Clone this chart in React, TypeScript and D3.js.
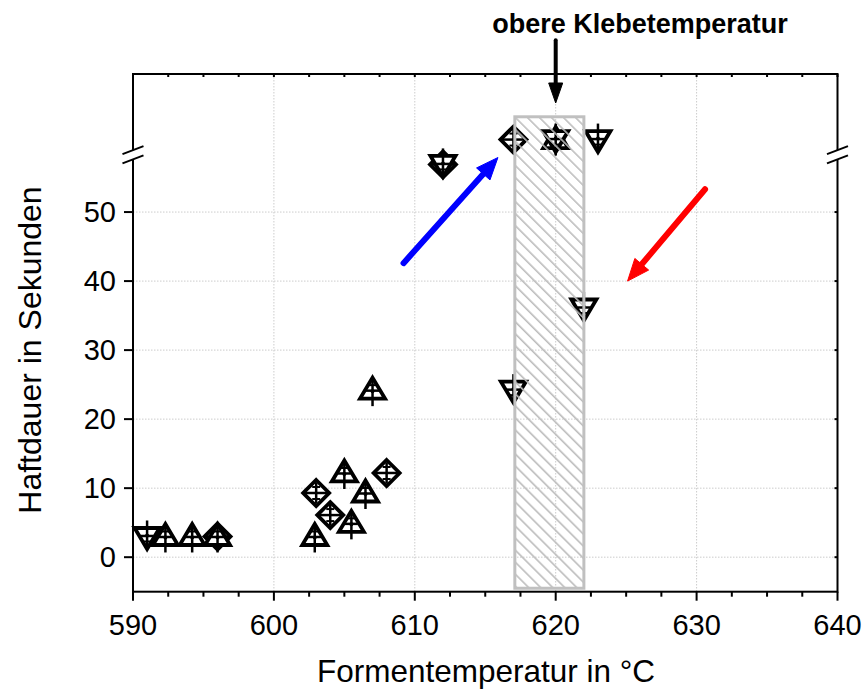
import React from "react";
import * as d3 from "d3";

const W = 866;
const H = 696;

// data: temperature (°C), adhesion duration (s), marker shape
const temps = [591, 592.3, 594.2, 596, 596, 602.9, 603, 604, 605, 605.5, 606.5, 607, 608, 612, 612, 617, 620, 620, 623, 617, 622];
const durations = [3, 3, 3, 3, 3, 3, 9.3, 6.1, 12.2, 4.9, 9.3, 24.2, 12.2, 56.9, 56.9, 60.5, 60.5, 60.5, 60.5, 24.2, 36.1];
const shapes = ["down", "up", "up", "diamond", "up", "up", "diamond", "diamond", "up", "up", "up", "up", "diamond", "diamond", "down", "diamond", "up", "down", "down", "down", "down"];

const xTicks = [590, 600, 610, 620, 630, 640];
const xMinorTicks = [592.5, 595, 597.5, 602.5, 605, 607.5, 612.5, 615, 617.5, 622.5, 625, 627.5, 632.5, 635, 637.5];
const yTicks = [0, 10, 20, 30, 40, 50];

// annotation (data units)
const bandRange = [617.1, 622];
const bandY = [-4.5, 63.8];
const blueArrow = [[609.2, 42.6], [615.9, 57.9]];
const redArrow = [[630.6, 53.3], [625.1, 40.0]];
const blackArrow = [[620, 74.9], [620, 65.8]];
const breakValue = 58.3;

const titleText = "obere Klebetemperatur";
const xLabel = "Formentemperatur in °C";
const yLabel = "Haftdauer in Sekunden";

const x = d3.scaleLinear().domain([590, 640]).range([133, 837.5]);
const y = d3.scaleLinear().domain([-5, 70]).range([591.7, 74]);

const FONT = "'Liberation Sans', Arial, sans-serif";

function Arrow({ pts, color, width, headLen, headHalf }: any) {
  const [x0, y0] = [x(pts[0][0]), y(pts[0][1])];
  const [x1, y1] = [x(pts[1][0]), y(pts[1][1])];
  const dx = x1 - x0, dy = y1 - y0;
  const len = Math.sqrt(dx * dx + dy * dy);
  const ux = dx / len, uy = dy / len;
  const bx = x1 - ux * headLen, by = y1 - uy * headLen;
  const px = -uy, py = ux;
  const head = [
    [x1, y1],
    [bx + px * headHalf, by + py * headHalf],
    [bx - px * headHalf, by - py * headHalf],
  ];
  return (
    <g>
      <line x1={x0} y1={y0} x2={bx + ux * 2} y2={by + uy * 2} stroke={color} strokeWidth={width} strokeLinecap="round" />
      <polygon points={head.map((p) => p.join(",")).join(" ")} fill={color} stroke={color} strokeWidth={1} strokeLinejoin="round" />
    </g>
  );
}

function Marker({ cx, cy, shape }: any) {
  const sw = 3.8;
  if (shape === "up") {
    return (
      <g transform={`translate(${cx},${cy})`} stroke="#000" strokeWidth={sw} fill="#fff">
        <path d="M0,-12.5 L12.5,8.5 L-12.5,8.5 Z" strokeLinejoin="miter" />
        <line x1={0} y1={-12} x2={0} y2={16} strokeWidth={2.5} />
        <line x1={-6.5} y1={0.5} x2={6.5} y2={0.5} strokeWidth={2.5} />
        <line x1={-4} y1={-5} x2={4} y2={-5} strokeWidth={2} />
        <circle cx={0} cy={1} r={2} fill="#000" stroke="none" />
      </g>
    );
  }
  if (shape === "down") {
    return (
      <g transform={`translate(${cx},${cy})`} stroke="#000" strokeWidth={sw} fill="#fff">
        <path d="M-12.5,-8.5 L12.5,-8.5 L0,12.5 Z" strokeLinejoin="miter" />
        <line x1={0} y1={-16} x2={0} y2={12} strokeWidth={2.5} />
        <line x1={-6.5} y1={-0.5} x2={6.5} y2={-0.5} strokeWidth={2.5} />
        <line x1={-4} y1={5} x2={4} y2={5} strokeWidth={2} />
        <circle cx={0} cy={-1} r={2} fill="#000" stroke="none" />
      </g>
    );
  }
  return (
    <g transform={`translate(${cx},${cy})`} stroke="#000" strokeWidth={sw} fill="#fff">
      <path d="M0,-13 L13,0 L0,13 L-13,0 Z" strokeLinejoin="miter" />
      <line x1={-12} y1={0} x2={12} y2={0} strokeWidth={2.5} />
      <line x1={0} y1={-10.5} x2={0} y2={10.5} strokeWidth={2.5} />
      <line x1={-4} y1={-6} x2={4} y2={-6} strokeWidth={2} />
      <line x1={-4} y1={6} x2={4} y2={6} strokeWidth={2} />
    </g>
  );
}

function BreakMark({ ax }: any) {
  const by = y(breakValue);
  const dxh = 10.5, dyh = 4, gap = 4.6;
  return (
    <g>
      <polygon
        points={`${ax - dxh},${by - gap + dyh} ${ax + dxh},${by - gap - dyh} ${ax + dxh},${by + gap - dyh} ${ax - dxh},${by + gap + dyh}`}
        fill="#fff"
        stroke="none"
      />
      <line x1={ax - dxh} y1={by - gap + dyh} x2={ax + dxh} y2={by - gap - dyh} stroke="#000" strokeWidth={2} />
      <line x1={ax - dxh} y1={by + gap + dyh} x2={ax + dxh} y2={by + gap - dyh} stroke="#000" strokeWidth={2} />
    </g>
  );
}

export default function App() {
  const [x0, x1] = x.range();
  const [yb, yt] = y.range();
  return (
    <svg width={W} height={H} style={{ position: "absolute", left: 0, top: 0, background: "#fff" }} fontFamily={FONT}>
      <defs>
        <pattern id="hatch" patternUnits="userSpaceOnUse" width={8.5} height={8.5} patternTransform="rotate(-45)">
          <line x1={0} y1={0} x2={0} y2={8.5} stroke="#bdbdbd" strokeWidth={3.2} />
        </pattern>
      </defs>
      <rect x={0} y={0} width={W} height={H} fill="#fff" />

      {/* grid */}
      <g stroke="#cccccc" strokeWidth={1} strokeDasharray="1.5,1.5">
        {xTicks.slice(1, -1).map((t) => (
          <line key={"gx" + t} x1={x(t)} x2={x(t)} y1={yt} y2={yb} />
        ))}
        {yTicks.map((t) => (
          <line key={"gy" + t} x1={x0} x2={x1} y1={y(t)} y2={y(t)} />
        ))}
      </g>

      {/* markers */}
      {temps.map((t, i) => (
        <Marker key={i} cx={x(t)} cy={y(durations[i])} shape={shapes[i]} />
      ))}

      {/* hatched band */}
      <rect
        x={x(bandRange[0])}
        y={y(bandY[1])}
        width={x(bandRange[1]) - x(bandRange[0])}
        height={y(bandY[0]) - y(bandY[1])}
        fill="url(#hatch)"
        stroke="#c0c0c0"
        strokeWidth={3}
      />

      {/* arrows */}
      <Arrow pts={blueArrow} color="#0000ff" width={6} headLen={22} headHalf={9} />
      <Arrow pts={redArrow} color="#ff0000" width={6} headLen={22} headHalf={9} />
      <Arrow pts={blackArrow} color="#000" width={4} headLen={20} headHalf={7} />

      {/* frame */}
      <rect x={x0} y={yt} width={x1 - x0} height={yb - yt} fill="none" stroke="#000" strokeWidth={2} />

      {/* ticks */}
      <g stroke="#000" strokeWidth={2}>
        {xTicks.map((t) => (
          <line key={"bt" + t} x1={x(t)} x2={x(t)} y1={yb} y2={yb + 9} />
        ))}
        {xMinorTicks.map((t) => (
          <line key={"bm" + t} x1={x(t)} x2={x(t)} y1={yb} y2={yb + 5} />
        ))}
        {[...xTicks, ...xMinorTicks].map((t) => (
          <line key={"tt" + t} x1={x(t)} x2={x(t)} y1={yt} y2={yt + 3} />
        ))}
        {yTicks.map((t) => (
          <line key={"lt" + t} x1={x0 - 9} x2={x0} y1={y(t)} y2={y(t)} />
        ))}
        {yTicks.map((t) => (
          <line key={"rt" + t} x1={x1 - 3} x2={x1} y1={y(t)} y2={y(t)} />
        ))}
      </g>

      <BreakMark ax={x0} />
      <BreakMark ax={x1} />

      {/* tick labels */}
      <g fontSize={29} fill="#000">
        {xTicks.map((t) => (
          <text key={"xl" + t} x={x(t)} y={635} textAnchor="middle">
            {t}
          </text>
        ))}
        {yTicks.map((t) => (
          <text key={"yl" + t} x={116} y={y(t)} textAnchor="end" dominantBaseline="central">
            {t}
          </text>
        ))}
      </g>

      {/* axis titles */}
      <text x={486} y={682} textAnchor="middle" fontSize={31.5} fill="#000">
        {xLabel}
      </text>
      <text transform={`translate(41,350) rotate(-90)`} textAnchor="middle" fontSize={32} fill="#000">
        {yLabel}
      </text>

      {/* title */}
      <text x={640} y={33} textAnchor="middle" fontSize={27} fontWeight="bold" fill="#000">
        {titleText}
      </text>
    </svg>
  );
}
